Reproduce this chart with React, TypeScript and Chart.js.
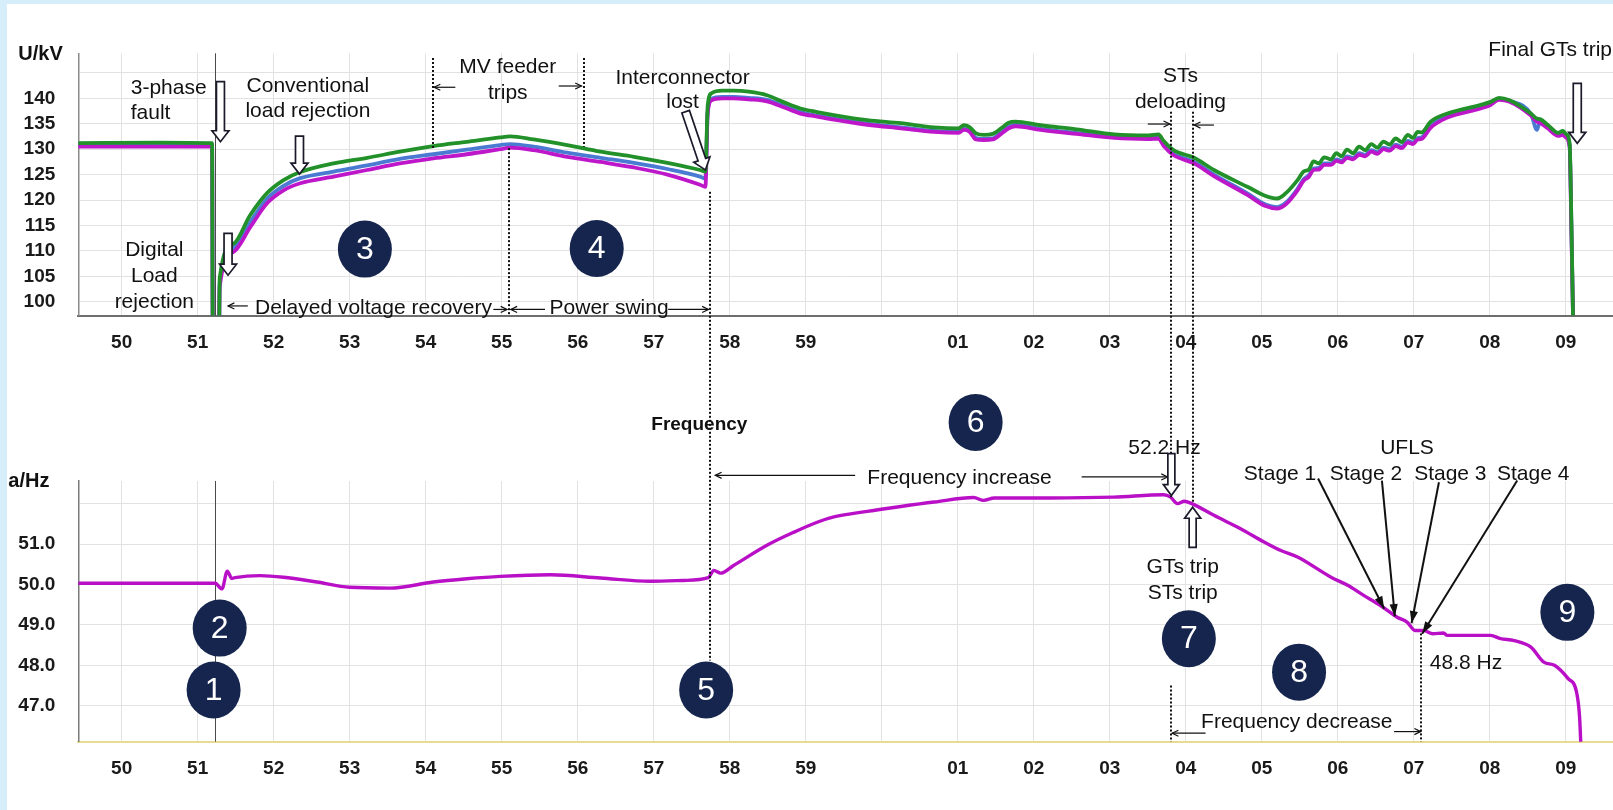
import React, { useEffect, useRef } from 'react';
import { Chart, registerables } from 'chart.js';

Chart.register(...registerables);

const W = 1613;
const H = 810;
const FONT = "'Liberation Sans', Arial, Helvetica, sans-serif";

// ---------- axes ----------
const MINUTE_TICKS = [50, 51, 52, 53, 54, 55, 56, 57, 58, 59, 60, 61, 62, 63, 64, 65, 66, 67, 68, 69];
const VOLT_TICKS = [100, 105, 110, 115, 120, 125, 130, 135, 140, 145];
const FREQ_TICKS = [47, 48, 49, 50, 51, 52];
const X_MIN = 49.43;
const X_MAX = 69.62;
const VOLT_MIN = 97.25;
const VOLT_MAX = 148.85;
const FREQ_MIN = 46.11;
const FREQ_MAX = 52.56;
const FAULT_TIME = 51.23;

// ---------- voltage (kV) ----------
const VOLT_TIME = [
  49.43, 50.50, 51.19, 51.20, 51.28, 51.29, 51.47, 51.69, 51.91, 52.13,
  52.35, 52.79, 53.23, 53.66, 54.10, 54.54, 54.98, 55.11, 55.42, 55.86,
  56.30, 56.74, 57.18, 57.61, 57.68, 57.71, 57.76, 57.90, 58.05, 58.25,
  58.49, 58.70, 58.93, 59.15, 59.37, 59.81, 60.25, 60.69, 61.01, 61.08,
  61.15, 61.24, 61.34, 61.46, 61.57, 61.67, 61.76, 62.09, 62.56, 63.06,
  63.51, 63.64, 63.71, 63.84, 64.11, 64.37, 64.81, 65.05, 65.20, 65.32,
  65.47, 65.55, 65.62, 65.68, 65.75, 65.82, 65.91, 65.98, 66.05, 66.12,
  66.20, 66.28, 66.36, 66.44, 66.52, 66.60, 66.68, 66.76, 66.84, 66.92,
  66.99, 67.05, 67.10, 67.22, 67.44, 67.88, 68.01, 68.12, 68.26, 68.54,
  68.62, 68.66, 68.76, 68.90, 68.96, 69.00, 69.05, 69.07, 69.10,
];
const VOLT_GREEN = [
  131.2, 131.3, 131.2, 92, 92, 104.6, 111.4, 117.0, 121.3, 123.9,
  125.5, 127.2, 128.3, 129.5, 130.6, 131.45, 132.3, 132.5, 131.9, 130.8,
  129.5, 128.5, 127.3, 125.9, 125.6, 138.5, 141.0, 141.5, 141.5, 141.3,
  140.6, 139.3, 138.0, 137.3, 136.7, 135.7, 135.1, 134.3, 134.1, 134.7,
  134.4, 133.1, 132.8, 133.0, 134.1, 135.2, 135.4, 134.7, 133.9, 132.9,
  132.7, 132.9, 131.6, 129.8, 128.3, 125.9, 122.6, 120.8, 120.3, 121.4,
  123.9, 125.6, 126.0, 127.6, 127.2, 128.4, 128.0, 129.2, 128.6, 129.9,
  129.2, 130.5, 129.8, 131.0, 130.3, 131.5, 130.9, 132.1, 131.4, 132.8,
  132.2, 133.4, 133.3, 135.4, 137.0, 138.7, 139.3, 140.1, 139.6, 137.0,
  136.0, 135.9, 134.8, 133.2, 133.6, 133.0, 131.1, 118, 92,
];
const VOLT_BLUE = [
  130.8, 130.9, 130.8, 92, 92, 103.6, 110.6, 115.6, 120.2, 122.8,
  124.3, 125.6, 126.8, 128.1, 129.0, 129.9, 130.8, 131.0, 130.5, 129.3,
  128.3, 127.3, 126.1, 124.6, 124.2, 137.4, 139.9, 140.3, 140.3, 140.1,
  139.7, 138.6, 137.3, 136.6, 136.0, 135.0, 134.3, 133.6, 133.4, 134.0,
  133.7, 132.2, 132.0, 132.1, 133.3, 134.4, 134.8, 134.0, 133.2, 132.4,
  132.2, 132.3, 130.9, 129.1, 127.5, 125.0, 121.3, 119.1, 118.6, 119.5,
  122.2, 124.1, 124.9, 126.2, 126.3, 127.2, 127.2, 128.0, 127.7, 128.6,
  128.3, 129.2, 128.9, 129.8, 129.4, 130.3, 130.0, 130.9, 130.5, 131.6,
  131.3, 132.2, 132.3, 134.5, 136.5, 138.3, 139.0, 139.9, 139.5, 136.9,
  133.8, 135.5, 134.4, 132.9, 133.1, 132.6, 130.6, 117, 92,
];
const VOLT_MAGENTA = [
  130.5, 130.5, 130.5, 92, 92, 102.9, 109.8, 114.6, 119.3, 121.9,
  123.3, 124.6, 125.9, 127.2, 128.2, 129.0, 130.0, 130.3, 129.8, 128.5,
  127.5, 126.4, 125.0, 123.0, 122.6, 137.0, 139.6, 140.0, 140.0, 139.8,
  139.4, 138.3, 137.0, 136.4, 135.8, 134.8, 134.1, 133.4, 133.2, 133.8,
  133.5, 131.9, 131.8, 131.9, 133.0, 134.1, 134.5, 133.8, 133.0, 132.2,
  132.0, 132.1, 130.6, 128.8, 127.2, 124.7, 121.0, 118.8, 118.3, 119.2,
  121.9, 123.8, 124.6, 125.9, 126.0, 126.9, 126.9, 127.7, 127.4, 128.3,
  128.0, 128.9, 128.6, 129.5, 129.1, 130.0, 129.7, 130.6, 130.2, 131.3,
  131.0, 131.9, 132.0, 134.2, 136.2, 138.0, 138.7, 139.7, 139.3, 136.6,
  135.4, 135.2, 134.1, 132.6, 132.8, 132.3, 130.3, 116, 92,
];

// ---------- frequency (Hz) ----------
const FREQ_TIME = [
  49.43, 51.23, 51.32, 51.39, 51.45, 51.49, 51.82, 52.13, 52.57, 53.00,
  53.53, 54.10, 54.54, 54.98, 55.64, 56.30, 56.96, 57.39, 57.72, 57.79,
  57.88, 58.05, 58.49, 58.84, 59.15, 59.37, 59.81, 60.25, 60.69, 61.21,
  61.34, 61.48, 62.20, 63.05, 63.71, 63.80, 63.89, 63.98, 64.08, 64.37,
  64.72, 65.03, 65.25, 65.47, 65.91, 66.13, 66.34, 66.56, 66.78, 66.91,
  67.02, 67.13, 67.25, 67.39, 67.44, 68.01, 68.14, 68.32, 68.54, 68.71,
  68.85, 69.03, 69.14, 69.18, 69.20,
];
const FREQ_HZ = [
  50.03, 50.03, 49.89, 50.33, 50.15, 50.17, 50.22, 50.18, 50.06, 49.93,
  49.91, 50.06, 50.14, 50.20, 50.24, 50.16, 50.08, 50.10, 50.17, 50.35,
  50.28, 50.47, 50.97, 51.29, 51.54, 51.67, 51.81, 51.93, 52.04, 52.15,
  52.08, 52.14, 52.14, 52.16, 52.22, 52.16, 52.00, 52.06, 52.00, 51.71,
  51.38, 51.05, 50.84, 50.68, 50.18, 49.98, 49.73, 49.48, 49.19, 49.07,
  48.86, 48.86, 48.78, 48.80, 48.74, 48.74, 48.66, 48.61, 48.45, 48.08,
  48.00, 47.67, 47.34, 46.73, 45.90,
];

// ---------- annotations (time in minutes, values in kV / Hz) ----------
const VOLT_TEXTS: [string, number, number, CanvasTextAlign][] = [
  ['3-phase', 50.12, 141.97, 'left'],
  ['fault', 50.12, 137.05, 'left'],
  ['Conventional', 52.45, 142.42, 'center'],
  ['load rejection', 52.45, 137.5, 'center'],
  ['Digital', 50.43, 110.14, 'center'],
  ['Load', 50.43, 105.03, 'center'],
  ['rejection', 50.43, 99.96, 'center'],
  ['Delayed voltage recovery', 51.755, 98.66, 'left'],
  ['Power swing', 55.63, 98.7, 'left'],
  ['MV feeder', 55.08, 146.02, 'center'],
  ['trips', 55.08, 140.98, 'center'],
  ['Interconnector', 57.38, 143.94, 'center'],
  ['lost', 57.38, 139.33, 'center'],
  ['STs', 63.93, 144.25, 'center'],
  ['deloading', 63.93, 139.33, 'center'],
  ['Final GTs trip', 67.98, 149.5, 'left'],
];
const VOLT_HOLLOW = [
  [51.30, 143.27, 51.30, 131.46],
  [52.34, 132.58, 52.34, 125.1],
  [51.40, 113.43, 51.40, 105.22],
  [57.42, 137.36, 57.68, 125.89],
  [69.15, 142.95, 69.15, 131.14],
];
const VOLT_POINTERS = [
  [51.66, 99.17, 51.40, 99.17],
  [54.89, 98.48, 55.07, 98.48],
  [55.57, 98.48, 55.12, 98.48],
  [57.19, 98.48, 57.72, 98.48],
  [54.39, 142.17, 54.11, 142.17],
  [55.75, 142.42, 56.05, 142.42],
  [63.50, 134.94, 63.79, 134.94],
  [64.37, 134.74, 64.11, 134.74],
];
const VOLT_DOTTED = [
  [54.095, 147.93, 130.2],
  [56.08, 147.93, 130.47],
  [55.10, 130.2, VOLT_MIN],
];
const VOLT_BADGES: [string, number, number][] = [
  ['3', 53.20, 110.35],
  ['4', 56.25, 110.47],
];
// dotted lines running from the voltage panel into the frequency panel: [time, kV start, Hz end]
const CROSS_DOTTED = [
  [57.745, 121.61, 48.12],
  [63.81, 137.36, 52.16],
  [64.09, 137.36, 52.0],
];
const FREQ_TEXTS: [string, number, number, CanvasTextAlign][] = [
  ['Frequency increase', 59.81, 52.64, 'left'],
  ['52.2 Hz', 63.72, 53.36, 'center'],
  ['GTs trip', 63.96, 50.43, 'center'],
  ['STs trip', 63.96, 49.78, 'center'],
  ['UFLS', 66.91, 53.36, 'center'],
  ['Stage 1', 65.24, 52.72, 'center'],
  ['Stage 2', 66.37, 52.72, 'center'],
  ['Stage 3', 67.48, 52.72, 'center'],
  ['Stage 4', 68.57, 52.72, 'center'],
  ['48.8 Hz', 67.21, 48.04, 'left'],
  ['Frequency decrease', 65.46, 46.59, 'center'],
];
const FREQ_BADGES: [string, number, number][] = [
  ['6', 61.235, 54.01],
  ['7', 64.04, 48.66],
  ['8', 65.49, 47.83],
  ['9', 69.02, 49.31],
  ['5', 57.69, 47.39],
  ['2', 51.29, 48.92],
  ['1', 51.21, 47.39],
];
const FREQ_HOLLOW = [
  [63.81, 53.235, 63.81, 52.20],
  [64.09, 50.92, 64.09, 51.91],
];
const FREQ_POINTERS = [
  [59.65, 52.70, 57.81, 52.70],
  [62.63, 52.66, 63.76, 52.66],
  [64.26, 46.32, 63.82, 46.32],
  [66.74, 46.36, 67.09, 46.36],
];
const UFLS_ARROWS = [
  [65.74, 52.62, 66.61, 49.40],
  [66.58, 52.57, 66.75, 49.21],
  [67.33, 52.53, 66.97, 49.04],
  [68.36, 52.57, 67.11, 48.78],
];
const FREQ_DOTTED = [
  [67.10, 48.79, FREQ_MIN],
  [63.81, 47.50, FREQ_MIN],
];

// ---------- drawing helpers ----------
function minuteLabel(v: number) {
  const r = Math.round(v);
  if (r === 60) return '';
  const m = r % 60;
  return m < 10 ? '0' + m : String(m);
}

function drawText(ctx: any, s: string, x: number, y: number, align: CanvasTextAlign = 'center', font = `21px ${FONT}`, color = '#111') {
  ctx.save();
  ctx.font = font;
  ctx.fillStyle = color;
  ctx.textAlign = align;
  ctx.textBaseline = 'middle';
  ctx.fillText(s, x, y);
  ctx.restore();
}

function hollowArrow(ctx: any, x1: number, y1: number, x2: number, y2: number, shaft = 8, headW = 17, headL = 11) {
  const dx = x2 - x1, dy = y2 - y1;
  const len = Math.hypot(dx, dy);
  const ux = dx / len, uy = dy / len, nx = -uy, ny = ux;
  const bx = x2 - ux * headL, by = y2 - uy * headL;
  const pts = [
    [x1 + nx * shaft / 2, y1 + ny * shaft / 2],
    [bx + nx * shaft / 2, by + ny * shaft / 2],
    [bx + nx * headW / 2, by + ny * headW / 2],
    [x2, y2],
    [bx - nx * headW / 2, by - ny * headW / 2],
    [bx - nx * shaft / 2, by - ny * shaft / 2],
    [x1 - nx * shaft / 2, y1 - ny * shaft / 2],
  ];
  ctx.save();
  ctx.beginPath();
  pts.forEach(([px, py], i) => (i ? ctx.lineTo(px, py) : ctx.moveTo(px, py)));
  ctx.closePath();
  ctx.fillStyle = '#fff';
  ctx.fill();
  ctx.lineWidth = 1.7;
  ctx.strokeStyle = '#1a1a2a';
  ctx.stroke();
  ctx.restore();
}

function lineArrow(ctx: any, x1: number, y1: number, x2: number, y2: number, lw = 1.2, head = 7, filled = false, spread = 0.45) {
  const ang = Math.atan2(y2 - y1, x2 - x1);
  ctx.save();
  ctx.strokeStyle = '#111';
  ctx.fillStyle = '#111';
  ctx.lineWidth = lw;
  ctx.beginPath();
  ctx.moveTo(x1, y1);
  ctx.lineTo(x2, y2);
  ctx.stroke();
  const a1 = ang + Math.PI - spread, a2 = ang + Math.PI + spread;
  ctx.beginPath();
  ctx.moveTo(x2 + head * Math.cos(a1), y2 + head * Math.sin(a1));
  ctx.lineTo(x2, y2);
  ctx.lineTo(x2 + head * Math.cos(a2), y2 + head * Math.sin(a2));
  if (filled) {
    ctx.closePath();
    ctx.fill();
  } else {
    ctx.stroke();
  }
  ctx.restore();
}

function dotted(ctx: any, x: number, ya: number, yb: number) {
  ctx.save();
  ctx.strokeStyle = '#111';
  ctx.lineWidth = 2;
  ctx.setLineDash([2, 2]);
  ctx.beginPath();
  ctx.moveTo(Math.round(x), ya);
  ctx.lineTo(Math.round(x), yb);
  ctx.stroke();
  ctx.restore();
}

function badge(ctx: any, x: number, y: number, s: string) {
  ctx.save();
  ctx.beginPath();
  ctx.ellipse(x, y, 27, 28.5, 0, 0, Math.PI * 2);
  ctx.fillStyle = '#15254d';
  ctx.fill();
  ctx.font = `32px ${FONT}`;
  ctx.fillStyle = '#fff';
  ctx.textAlign = 'center';
  ctx.textBaseline = 'middle';
  ctx.fillText(s, x, y + 1);
  ctx.restore();
}

function faultLine(chart: any) {
  const { ctx, chartArea, scales } = chart;
  const x = Math.round(scales.x.getPixelForValue(FAULT_TIME)) + 0.5;
  ctx.save();
  ctx.strokeStyle = '#4a4a4a';
  ctx.lineWidth = 1;
  ctx.beginPath();
  ctx.moveTo(x, chartArea.top);
  ctx.lineTo(x, chartArea.bottom);
  ctx.stroke();
  ctx.restore();
}

const voltNotes = {
  id: 'voltNotes',
  beforeDatasetsDraw(chart: any) {
    faultLine(chart);
  },
  afterDatasetsDraw(chart: any) {
    const { ctx, chartArea, scales } = chart;
    const X = (v: number) => scales.x.getPixelForValue(v);
    const Y = (v: number) => scales.y.getPixelForValue(v);
    drawText(ctx, 'U/kV', chartArea.left - 60, chartArea.top + 1, 'left', `bold 20px ${FONT}`);
    VOLT_DOTTED.forEach(([t, a, b]) => dotted(ctx, X(t), Y(a), Y(b)));
    VOLT_TEXTS.forEach(([s, t, v, al]) => drawText(ctx, s, X(t), Y(v), al));
    VOLT_HOLLOW.forEach(([t1, v1, t2, v2]) => hollowArrow(ctx, X(t1), Y(v1), X(t2), Y(v2)));
    VOLT_POINTERS.forEach(([t1, v1, t2, v2]) => lineArrow(ctx, X(t1), Y(v1), X(t2), Y(v2)));
    VOLT_BADGES.forEach(([s, t, v]) => badge(ctx, X(t), Y(v), s));
  },
};

function makeFreqNotes(topChart: any) {
  return {
    id: 'freqNotes',
    beforeDatasetsDraw(chart: any) {
      faultLine(chart);
    },
    afterDatasetsDraw(chart: any) {
      const { ctx, chartArea, scales } = chart;
      const X = (v: number) => scales.x.getPixelForValue(v);
      const Y = (v: number) => scales.y.getPixelForValue(v);
      const YV = (v: number) => topChart.scales.y.getPixelForValue(v);
      drawText(ctx, 'a/Hz', chartArea.left - 70, chartArea.top, 'left', `bold 20px ${FONT}`);
      drawText(ctx, 'Frequency', X(57.6), Y(53.96), 'center', `bold 19px ${FONT}`);
      CROSS_DOTTED.forEach(([t, v, f]) => dotted(ctx, X(t), YV(v), Y(f)));
      FREQ_DOTTED.forEach(([t, a, b]) => dotted(ctx, X(t), Y(a), Y(b)));
      FREQ_TEXTS.forEach(([s, t, v, al]) => drawText(ctx, s, X(t), Y(v), al));
      FREQ_POINTERS.forEach(([t1, v1, t2, v2]) => lineArrow(ctx, X(t1), Y(v1), X(t2), Y(v2)));
      UFLS_ARROWS.forEach(([t1, v1, t2, v2]) => lineArrow(ctx, X(t1), Y(v1), X(t2), Y(v2), 2, 13, true, 0.32));
      FREQ_HOLLOW.forEach(([t1, v1, t2, v2]) => hollowArrow(ctx, X(t1), Y(v1), X(t2), Y(v2), 7, 16, 11));
      FREQ_BADGES.forEach(([s, t, v]) => badge(ctx, X(t), Y(v), s));
    },
  };
}

const tickFont = { family: FONT, size: 19, weight: 'bold' as const };

function xScale(borderColor: string) {
  return {
    type: 'linear' as const,
    min: X_MIN,
    max: X_MAX,
    afterBuildTicks: (s: any) => {
      s.ticks = MINUTE_TICKS.map((v) => ({ value: v }));
    },
    afterFit: (s: any) => {
      s.height = 40;
    },
    ticks: {
      autoSkip: false,
      maxRotation: 0,
      padding: 16,
      color: '#1a1a1a',
      font: tickFont,
      callback: (v: any) => minuteLabel(Number(v)),
    },
    grid: { color: '#e2e2e2', lineWidth: 1, drawTicks: false },
    border: { color: borderColor, width: 2 },
  };
}

function yScale(min: number, max: number, ticks: number[], fmt: (v: number) => string, borderColor: string) {
  return {
    type: 'linear' as const,
    min,
    max,
    afterBuildTicks: (s: any) => {
      s.ticks = ticks.map((v) => ({ value: v }));
    },
    afterFit: (s: any) => {
      s.width = 78.3;
    },
    ticks: {
      padding: 23,
      color: '#1a1a1a',
      font: tickFont,
      callback: (v: any) => fmt(Number(v)),
    },
    grid: { color: '#e2e2e2', lineWidth: 1, drawTicks: false },
    border: { color: borderColor, width: 1.5 },
  };
}

function series(times: number[], values: number[]) {
  return times.map((t, i) => ({ x: t, y: values[i] }));
}

export default function App() {
  const topRef = useRef<HTMLCanvasElement>(null);
  const botRef = useRef<HTMLCanvasElement>(null);

  useEffect(() => {
    const lineStyle = {
      pointRadius: 0,
      cubicInterpolationMode: 'monotone' as const,
      borderJoinStyle: 'round' as const,
      borderCapStyle: 'round' as const,
      fill: false,
    };
    const top = new Chart(topRef.current as HTMLCanvasElement, {
      type: 'line',
      data: {
        datasets: [
          { label: 'Phase L1', data: series(VOLT_TIME, VOLT_GREEN), borderColor: '#22912a', borderWidth: 3.8, ...lineStyle },
          { label: 'Phase L3', data: series(VOLT_TIME, VOLT_MAGENTA), borderColor: '#be17c9', borderWidth: 3.8, ...lineStyle },
          { label: 'Phase L2', data: series(VOLT_TIME, VOLT_BLUE), borderColor: '#4a7ad2', borderWidth: 3.8, ...lineStyle },
        ],
      },
      options: {
        responsive: false,
        animation: false,
        devicePixelRatio: 1,
        events: [],
        layout: { padding: { left: 0, right: 0, top: 53.3, bottom: H - 315.7 - 40 } },
        plugins: { legend: { display: false }, tooltip: { enabled: false } },
        scales: {
          x: xScale('#6e6e6e'),
          y: yScale(VOLT_MIN, VOLT_MAX, VOLT_TICKS, (v) => (v === 145 ? '' : String(v)), '#8a8a8a'),
        },
      },
      plugins: [voltNotes],
    } as any);

    const bot = new Chart(botRef.current as HTMLCanvasElement, {
      type: 'line',
      data: {
        datasets: [
          { label: 'Frequency', data: series(FREQ_TIME, FREQ_HZ), borderColor: '#b90fc6', borderWidth: 3.4, ...lineStyle },
        ],
      },
      options: {
        responsive: false,
        animation: false,
        devicePixelRatio: 1,
        events: [],
        layout: { padding: { left: 0, right: 0, top: 481, bottom: H - 741.7 - 40 } },
        plugins: { legend: { display: false }, tooltip: { enabled: false } },
        scales: {
          x: xScale('#e8dc94'),
          y: yScale(FREQ_MIN, FREQ_MAX, FREQ_TICKS, (v) => (v === 52 ? '' : v.toFixed(1)), '#7a7a7a'),
        },
      },
      plugins: [makeFreqNotes(top)],
    } as any);

    return () => {
      bot.destroy();
      top.destroy();
    };
  }, []);

  return (
    <div style={{ position: 'absolute', left: 0, top: 0, width: W, height: H, background: '#d6eefa', overflow: 'hidden' }}>
      <div style={{ position: 'absolute', left: 7, top: 4, right: 0, bottom: 0, background: '#ffffff' }} />
      <canvas ref={topRef} width={W} height={H} style={{ position: 'absolute', left: 0, top: 0 }} />
      <canvas ref={botRef} width={W} height={H} style={{ position: 'absolute', left: 0, top: 0 }} />
    </div>
  );
}
